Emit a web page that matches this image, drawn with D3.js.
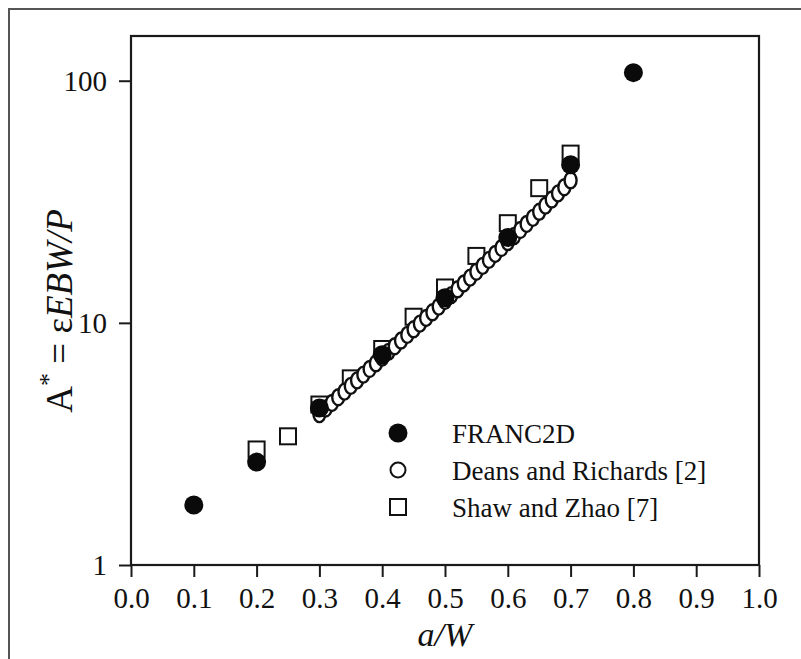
<!DOCTYPE html>
<html>
<head>
<meta charset="utf-8">
<script src="https://cdn.jsdelivr.net/npm/d3@7"></script>
<style>
  body { margin: 0; background: #fff; }
  svg { display: block; }
  text { font-family: "Liberation Serif", "DejaVu Serif", serif; fill: #111; }
</style>
</head>
<body>
<svg id="chart" width="801" height="659"></svg>
<script>
// FRANC2D results
const francX = [0.1, 0.2, 0.3, 0.4, 0.5, 0.6, 0.7, 0.8];
const francY = [1.77, 2.66, 4.45, 7.38, 12.7, 22.5, 45.0, 108];

// Deans and Richards [2]
const deansX = [0.30, 0.31, 0.32, 0.33, 0.34, 0.35, 0.36, 0.37, 0.38, 0.39,
                0.40, 0.41, 0.42, 0.43, 0.44, 0.45, 0.46, 0.47, 0.48, 0.49,
                0.50, 0.51, 0.52, 0.53, 0.54, 0.55, 0.56, 0.57, 0.58, 0.59,
                0.60, 0.61, 0.62, 0.63, 0.64, 0.65, 0.66, 0.67, 0.68, 0.69, 0.70];
const deansY = [4.20, 4.43, 4.67, 4.93, 5.20, 5.49, 5.79, 6.11, 6.45, 6.81,
                7.19, 7.59, 8.01, 8.45, 8.92, 9.41, 9.93, 10.48, 11.06, 11.67,
                12.32, 13.02, 13.76, 14.55, 15.38, 16.26, 17.20, 18.20, 19.26, 20.38,
                21.57, 22.84, 24.19, 25.62, 27.14, 28.76, 30.48, 32.31, 34.26, 36.33, 38.8];

// Shaw and Zhao [7]
const shawX = [0.2, 0.25, 0.3, 0.35, 0.4, 0.45, 0.5, 0.55, 0.6, 0.65, 0.7];
const shawY = [3.0, 3.4, 4.6, 5.9, 7.8, 10.6, 14.0, 18.9, 25.8, 36.0, 50.0];

const xTicks = [0.0, 0.1, 0.2, 0.3, 0.4, 0.5, 0.6, 0.7, 0.8, 0.9, 1.0];
const yTicks = [1, 10, 100];
const legendLabels = ["FRANC2D", "Deans and Richards [2]", "Shaw and Zhao [7]"];

const svg = d3.select("#chart");
const margin = { top: 36, right: 42, bottom: 94, left: 131 };
const width = +svg.attr("width");
const height = +svg.attr("height");

const x = d3.scaleLinear()
    .domain([0, 1])
    .range([margin.left, width - margin.right]);

const y = d3.scaleLog()
    .domain([1, 153])
    .range([height - margin.bottom, margin.top]);

// outer frame (only top and left edges are visible)
svg.append("path")
    .attr("d", "M9,659 V9 H801")
    .attr("fill", "none")
    .attr("stroke", "#555")
    .attr("stroke-width", 2);

// plot box
svg.append("rect")
    .attr("x", x(0))
    .attr("y", y(153))
    .attr("width", x(1) - x(0))
    .attr("height", y(1) - y(153))
    .attr("fill", "none")
    .attr("stroke", "#1a1a1a")
    .attr("stroke-width", 2.2);

// bottom axis
const xAxis = svg.append("g")
    .attr("transform", `translate(0,${y(1)})`)
    .call(d3.axisBottom(x).tickValues(xTicks).tickSize(12).tickPadding(10).tickFormat(d3.format(".1f")));

// left axis
const yAxis = svg.append("g")
    .attr("transform", `translate(${x(0)},0)`)
    .call(d3.axisLeft(y).tickValues(yTicks).tickSize(12).tickPadding(12).tickFormat(d3.format("d")));

[xAxis, yAxis].forEach(g => {
    g.select(".domain").remove();
    g.selectAll(".tick line").attr("stroke", "#1a1a1a").attr("stroke-width", 2);
    g.selectAll(".tick text")
        .attr("fill", "#111")
        .style("font-family", "'Liberation Serif', serif")
        .style("font-size", "29px");
});
xAxis.selectAll(".tick text").attr("dy", "0.71em");
yAxis.selectAll(".tick text").attr("dy", "0.34em");

// axis titles
svg.append("text")
    .attr("x", (x(0) + x(1)) / 2)
    .attr("y", 646)
    .attr("text-anchor", "middle")
    .style("font-size", "34px")
    .style("font-style", "italic")
    .text("a/W");

const ylab = svg.append("text")
    .attr("transform", `translate(72,${y(10) - 12}) rotate(-90)`)
    .attr("text-anchor", "middle")
    .style("font-size", "37px");
ylab.append("tspan").text("A");
ylab.append("tspan").attr("dy", -15).style("font-size", "26px").text("*");
ylab.append("tspan").attr("dy", 15).text(" = \u03b5");
ylab.append("tspan").style("font-style", "italic").text("EBW/P");

// data marks
const sq = 16;
svg.append("g")
    .selectAll("rect")
    .data(shawX.map((d, i) => [d, shawY[i]]))
    .join("rect")
    .attr("x", d => x(d[0]) - sq / 2)
    .attr("y", d => y(d[1]) - sq / 2)
    .attr("width", sq)
    .attr("height", sq)
    .attr("fill", "#fff")
    .attr("stroke", "#111")
    .attr("stroke-width", 2);

svg.append("g")
    .selectAll("ellipse")
    .data(deansX.map((d, i) => [d, deansY[i]]))
    .join("ellipse")
    .attr("cx", d => x(d[0]))
    .attr("cy", d => y(d[1]))
    .attr("rx", 6)
    .attr("ry", 8)
    .attr("fill", "#fff")
    .attr("stroke", "#111")
    .attr("stroke-width", 2.4);

svg.append("g")
    .selectAll("circle")
    .data(francX.map((d, i) => [d, francY[i]]))
    .join("circle")
    .attr("cx", d => x(d[0]))
    .attr("cy", d => y(d[1]))
    .attr("r", 9.5)
    .attr("fill", "#0a0a0a");

// legend
const legend = svg.append("g").attr("transform", "translate(398,433)");
const rowH = 37;
legend.append("circle").attr("cx", 0).attr("cy", 0).attr("r", 9.5).attr("fill", "#0a0a0a");
legend.append("circle").attr("cx", 0).attr("cy", rowH).attr("r", 7.5)
    .attr("fill", "#fff").attr("stroke", "#111").attr("stroke-width", 2);
legend.append("rect").attr("x", -8).attr("y", 2 * rowH - 8).attr("width", 16).attr("height", 16)
    .attr("fill", "#fff").attr("stroke", "#111").attr("stroke-width", 2);
legend.selectAll("text.lab")
    .data(legendLabels)
    .join("text")
    .attr("class", "lab")
    .attr("x", 54)
    .attr("y", (d, i) => i * rowH + 10)
    .style("font-size", "27px")
    .text(d => d);
</script>
</body>
</html>
